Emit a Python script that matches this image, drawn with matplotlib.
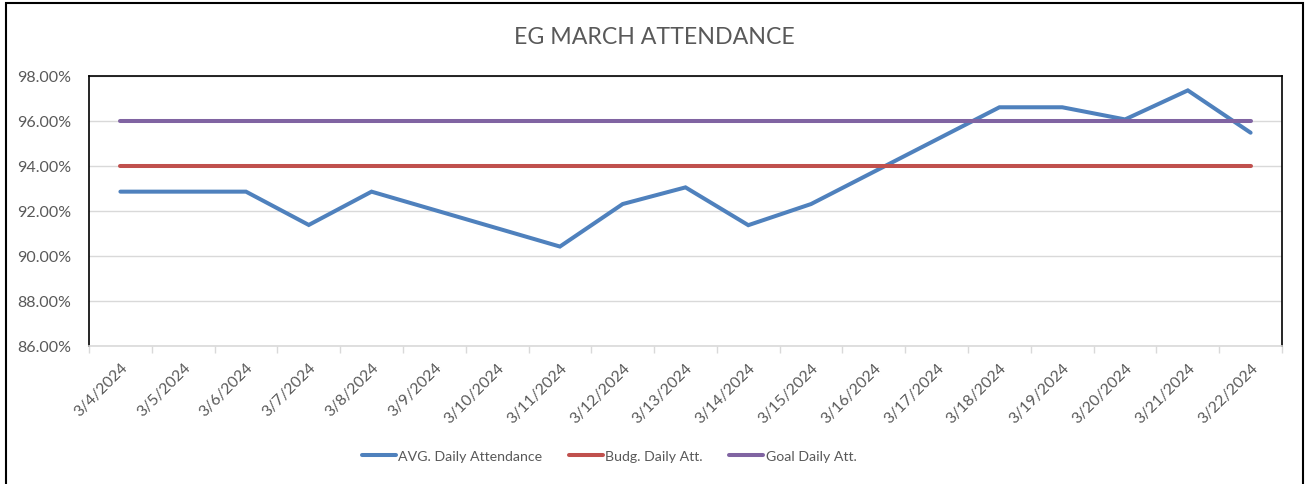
import matplotlib
matplotlib.use("Agg")
import matplotlib.pyplot as plt
import matplotlib.dates as mdates
from matplotlib.patches import Rectangle
from matplotlib.ticker import FuncFormatter, FixedLocator
import pandas as pd

# ---- data ----
axis_dates = ["3/4/2024", "3/5/2024", "3/6/2024", "3/7/2024", "3/8/2024", "3/9/2024",
              "3/10/2024", "3/11/2024", "3/12/2024", "3/13/2024", "3/14/2024", "3/15/2024",
              "3/16/2024", "3/17/2024", "3/18/2024", "3/19/2024", "3/20/2024", "3/21/2024",
              "3/22/2024"]
data_dates = ["3/4/2024", "3/5/2024", "3/6/2024", "3/7/2024", "3/8/2024",
              "3/11/2024", "3/12/2024", "3/13/2024", "3/14/2024", "3/15/2024",
              "3/18/2024", "3/19/2024", "3/20/2024", "3/21/2024", "3/22/2024"]
avg_daily = [92.86, 92.86, 92.86, 91.38, 92.86,
             90.42, 92.31, 93.05, 91.37, 92.31,
             96.61, 96.61, 96.07, 97.36, 95.48]
budget_daily = [94.0] * len(data_dates)
goal_daily = [96.0] * len(data_dates)
series_names = ["AVG. Daily Attendance", "Budg. Daily Att.", "Goal Daily Att."]
title = "EG MARCH ATTENDANCE"
y_ticks = [86, 88, 90, 92, 94, 96, 98]

# ---- style ----
plt.rcParams['font.family'] = ['Lato', 'DejaVu Sans']
GRAY = "#595959"
colors = ["#4F81BD", "#C0504D", "#8064A2"]

fig = plt.figure(figsize=(13.12, 4.85), dpi=100)
# outer chart border
fig.patches.append(Rectangle((6/1312, -0.01), (1303-6)/1312, 1 - 4/485 + 0.01,
                             transform=fig.transFigure, fill=False,
                             edgecolor="black", linewidth=1.5))

ax = fig.add_axes([89/1312, 1 - 347/485, (1282-89)/1312, (347-77)/485])

x_axis = mdates.date2num(pd.to_datetime(axis_dates, format="%m/%d/%Y"))
x_data = mdates.date2num(pd.to_datetime(data_dates, format="%m/%d/%Y"))

lw = 2.9
ax.plot(x_data, avg_daily, color=colors[0], lw=lw, solid_capstyle="round",
        solid_joinstyle="miter", label=series_names[0], zorder=3)
ax.plot(x_data, budget_daily, color=colors[1], lw=lw, solid_capstyle="round",
        label=series_names[1], zorder=3)
ax.plot(x_data, goal_daily, color=colors[2], lw=lw, solid_capstyle="round",
        label=series_names[2], zorder=3)

ax.set_xlim(x_axis[0] - 0.5, x_axis[-1] + 0.5)
ax.set_ylim(y_ticks[0], y_ticks[-1])

ax.set_yticks(y_ticks)
ax.yaxis.set_major_formatter(FuncFormatter(lambda v, p: f"{v:.2f}%"))
ax.tick_params(axis="y", length=0, pad=13, labelsize=11.5, labelcolor=GRAY)
ax.grid(axis="y", color="#D9D9D9", lw=1, zorder=0)

ax.set_xticks(x_axis)
ax.set_xticklabels(axis_dates, rotation=45, ha="right", rotation_mode="anchor")
ax.tick_params(axis="x", which="major", length=0, pad=10, labelsize=11.3, labelcolor=GRAY)
ax.xaxis.set_minor_locator(FixedLocator(list(x_axis - 0.5) + [x_axis[-1] + 0.5]))
ax.tick_params(axis="x", which="minor", length=5, color="#D9D9D9", width=1)

for s in ["left", "top", "right"]:
    ax.spines[s].set_color("black")
    ax.spines[s].set_linewidth(1.2)
ax.spines["bottom"].set_color("#D9D9D9")
ax.spines["bottom"].set_linewidth(1.2)

fig.text(654/1312, 1 - 37/485, title, ha="center", va="center", fontsize=16.7, color=GRAY)

leg = fig.legend(loc="center", bbox_to_anchor=(609/1312, 1 - 457/485), ncol=3,
                 frameon=False, fontsize=10.2, labelcolor=GRAY, handlelength=2.4,
                 handletextpad=0.15, columnspacing=1.9)

fig.savefig("out.png", dpi=100)
